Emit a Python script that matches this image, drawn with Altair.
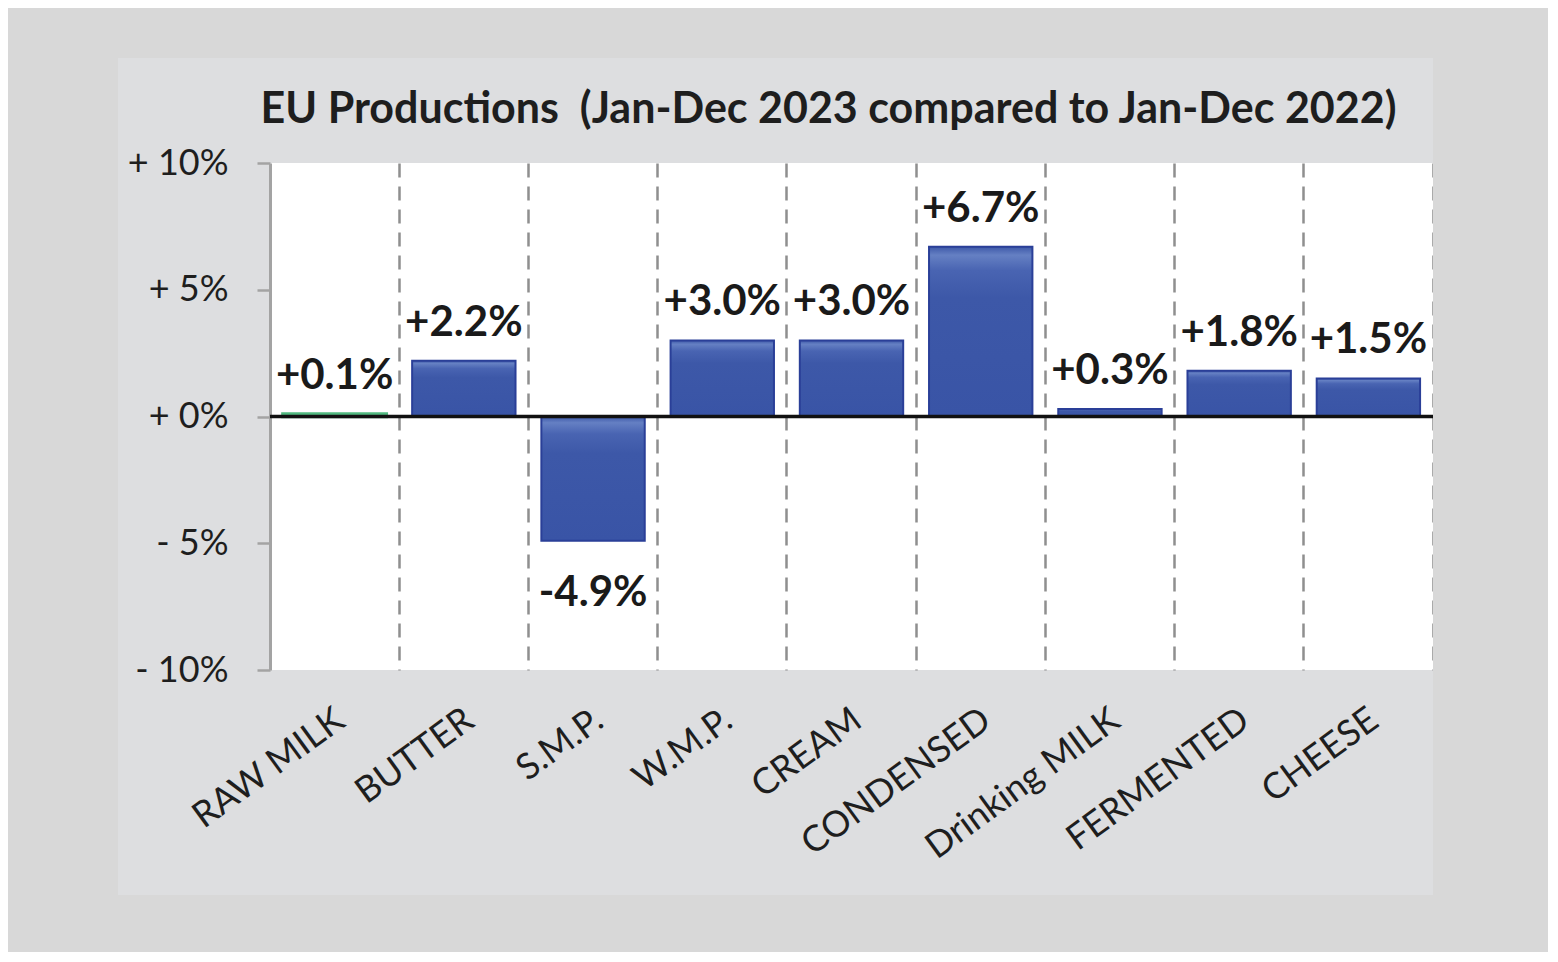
import altair as alt
import pandas as pd

categories = ["RAW MILK", "BUTTER", "S.M.P.", "W.M.P.", "CREAM",
              "CONDENSED", "Drinking MILK", "FERMENTED", "CHEESE"]
values = [0.1, 2.2, -4.9, 3.0, 3.0, 6.7, 0.3, 1.8, 1.5]
y_ticks = [-10, -5, 0, 5, 10]
title_text = "EU Productions\u00a0\u00a0(Jan-Dec 2023 compared to Jan-Dec 2022)"

df = pd.DataFrame({"category": categories, "value": values})
df["label"] = [f"{v:+.1f}%" for v in values]

W, H = 1163, 507
FONT = "Lato"

x_enc = alt.X("category:N", sort=categories,
              scale=alt.Scale(paddingInner=0, paddingOuter=0),
              axis=alt.Axis(title=None, domain=False, ticks=False,
                            labelAngle=-36, labelAlign="right", labelBaseline="top",
                            labelPadding=32, labelOffset=-4,
                            labelFont=FONT, labelFontSize=36, labelColor="#1e1e1e",
                            bandPosition=1, grid=True, gridDash=[14, 9],
                            gridColor="#8f8f8f", gridWidth=2.5, labelLimit=400))
y_enc = alt.Y("value:Q", scale=alt.Scale(domain=[-10, 10], nice=False),
              axis=alt.Axis(title=None, values=y_ticks, grid=False,
                            labelExpr="(datum.value >= 0 ? '+ ' : '- ') + abs(datum.value) + '%'",
                            domainColor="#a3a3a3", domainWidth=3,
                            tickColor="#a3a3a3", tickWidth=2.5, tickSize=13,
                            labelPadding=29, labelFont=FONT, labelFontSize=36,
                            labelColor="#1e1e1e"))

base = alt.Chart(df)
one = alt.Data(values=[{"a": 1}])

frame = alt.Chart(one).mark_rect(
    fill="transparent", stroke="#d8d8d8", strokeWidth=120
).encode(x=alt.value(-212), x2=alt.value(W + 60),
         y=alt.value(-165), y2=alt.value(H + 285))

blue_grad = alt.Gradient(
    gradient="linear", x1=0, y1=0, x2=0, y2=1,
    stops=[alt.GradientStop(color="#3d58a8", offset=0),
           alt.GradientStop(color="#6580c3", offset=0.05),
           alt.GradientStop(color="#4964b2", offset=0.14),
           alt.GradientStop(color="#3d58a8", offset=0.3),
           alt.GradientStop(color="#3954a6", offset=1)])

is_raw = alt.datum.category == "RAW MILK"
bars = base.mark_bar(width=alt.RelativeBandSize(0.8)).encode(
    x=x_enc, y=y_enc,
    color=alt.condition(is_raw, alt.value("#50ba80"), alt.value(blue_grad)),
    stroke=alt.condition(is_raw, alt.value("#50ba80"), alt.value("#2a3f98")),
    strokeWidth=alt.condition(is_raw, alt.value(3.5), alt.value(2)),
)

zero = alt.Chart(one).mark_rule(
    color="#111111", strokeWidth=3.5
).encode(y=alt.datum(0), x=alt.value(0), x2=alt.value(W))

pos_text = base.transform_filter(alt.datum.value >= 0).mark_text(
    font=FONT, fontSize=42, fontWeight="bold", color="#1a1a1a",
    baseline="middle", dy=-38
).encode(x=alt.X("category:N", sort=categories), y="value:Q", text="label:N")

neg_text = base.transform_filter(alt.datum.value < 0).mark_text(
    font=FONT, fontSize=42, fontWeight="bold", color="#1a1a1a",
    baseline="middle", dy=52
).encode(x=alt.X("category:N", sort=categories), y="value:Q", text="label:N")

title = alt.Chart(one).mark_text(
    text=title_text, font=FONT, fontSize=43, fontWeight="bold",
    color="#1e1e1e", baseline="alphabetic", align="center"
).encode(x=alt.value(W / 2 - 23), y=alt.value(-40))

chart = alt.layer(bars, zero, pos_text, neg_text, frame, title).properties(
    width=W, height=H,
    autosize=alt.AutoSizeParams(type="none"),
    padding={"left": 262, "top": 155, "right": 115, "bottom": 282},
    background="#dddee0",
).configure_view(fill="white", strokeWidth=0)

chart.save("out.html", embed_options={"renderer": "svg", "actions": False})
